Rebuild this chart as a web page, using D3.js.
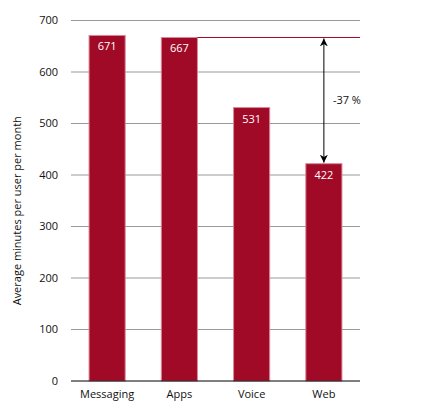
<!DOCTYPE html>
<html><head><meta charset="utf-8">
<script src="https://cdn.jsdelivr.net/npm/d3@7"></script>
<style>body{margin:0;background:#fff}svg{font-family:"Open Sans",sans-serif}</style>
</head><body><svg id="c" width="431" height="407"></svg>
<script>
const categories = ["Messaging","Apps","Voice","Web"];
const values = [671,667,531,422];
const yTicks = [0,100,200,300,400,500,600,700];
const diffLabel = "-37 %";
const yTitle = "Average minutes per user per month";

const svg = d3.select("#c");
const m = {l:71, r:71, t:20.5, b:26};
const W = 431, H = 407;
const x = d3.scaleBand().domain(categories).range([m.l, W-m.r]).paddingInner(0.5).paddingOuter(0.25);
const y = d3.scaleLinear().domain([0,700]).range([H-m.b, m.t]);

// grid
svg.append("g").selectAll("line").data(yTicks.filter(d=>d>0)).join("line")
  .attr("x1", m.l).attr("x2", W-m.r).attr("y1", d=>y(d)).attr("y2", d=>y(d))
  .attr("stroke", "#999").attr("stroke-width", 1);

// tick labels
svg.append("g").selectAll("text").data(yTicks).join("text")
  .attr("x", 58).attr("y", d=>y(d)).attr("dy","0.35em").attr("text-anchor","end")
  .attr("font-size", 11).attr("fill","#111").text(d=>d);

// bars
svg.append("g").selectAll("rect").data(values).join("rect")
  .attr("x", (d,i)=>x(categories[i])).attr("width", x.bandwidth())
  .attr("y", d=>y(d)).attr("height", d=>y(0)-y(d))
  .attr("fill", "#a00a26").attr("stroke", "#d9899a").attr("stroke-width", 1);

// value labels
svg.append("g").selectAll("text").data(values).join("text")
  .attr("x", (d,i)=>x(categories[i])+x.bandwidth()/2).attr("y", d=>y(d)+15)
  .attr("text-anchor","middle").attr("font-size", 11).attr("fill","#fff").text(d=>d);

// axis
svg.append("line").attr("x1", m.l).attr("x2", W-m.r).attr("y1", y(0)).attr("y2", y(0))
  .attr("stroke","#000").attr("stroke-width",1.2);

// category labels
svg.append("g").selectAll("text").data(categories).join("text")
  .attr("x", d=>x(d)+x.bandwidth()/2).attr("y", y(0)+17)
  .attr("text-anchor","middle").attr("font-size", 11).attr("fill","#111").text(d=>d);

// reference line at Apps value
const ref = values[1];
svg.append("line").attr("x1", x("Apps")+x.bandwidth()).attr("x2", W-m.r)
  .attr("y1", y(ref)).attr("y2", y(ref)).attr("stroke","#a00a26").attr("stroke-width",1);

// arrow
const ax = x("Web")+x.bandwidth()/2;
const defs = svg.append("defs");
defs.append("marker").attr("id","ah").attr("viewBox","0 0 10 10").attr("refX",10).attr("refY",5)
  .attr("markerWidth",8).attr("markerHeight",8).attr("markerUnits","userSpaceOnUse").attr("orient","auto-start-reverse")
  .append("path").attr("d","M0,0 L10,5 L0,10 L3,5 Z").attr("fill","#000");
svg.append("line").attr("x1", ax).attr("x2", ax).attr("y1", y(ref)+1).attr("y2", y(values[3])-1)
  .attr("stroke","#000").attr("stroke-width",1)
  .attr("marker-start","url(#ah)").attr("marker-end","url(#ah)");
svg.append("text").attr("x", ax+9).attr("y", (y(ref)+y(values[3]))/2).attr("dy","0.35em")
  .attr("font-size", 11).attr("fill","#111").text(diffLabel);

// y title
svg.append("text").attr("transform", `translate(21,${(y(0)+y(700))/2+10}) rotate(-90)`)
  .attr("text-anchor","middle").attr("font-size", 11).attr("fill","#111").text(yTitle);
</script></body></html>
